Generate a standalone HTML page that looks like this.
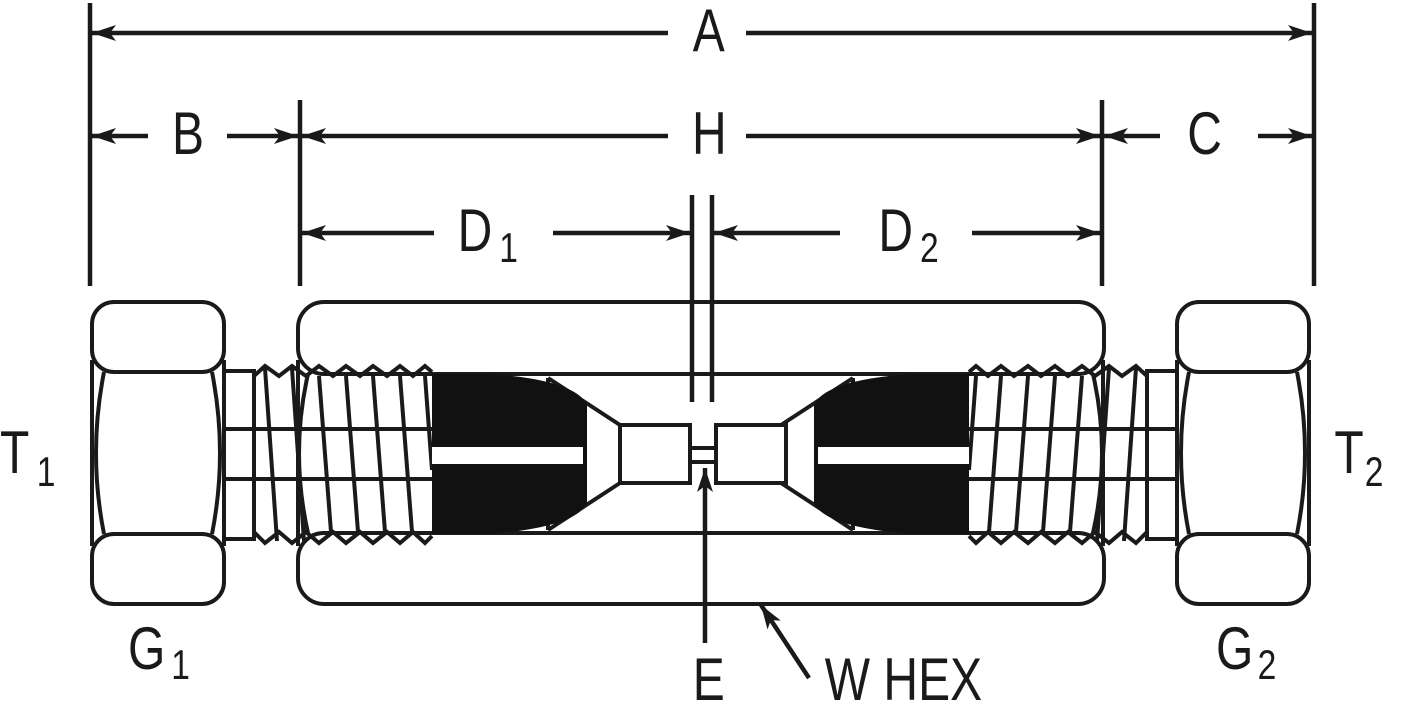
<!DOCTYPE html>
<html><head><meta charset="utf-8"><style>
html,body{margin:0;padding:0;background:#fff}
svg{display:block}
text{font-family:"Liberation Sans Narrow","Liberation Sans",sans-serif;fill:#1a1a1a}
</style></head><body>
<svg width="1402" height="706" viewBox="0 0 1402 706" xmlns="http://www.w3.org/2000/svg">
<defs>
<marker id="ar" markerUnits="userSpaceOnUse" markerWidth="26" markerHeight="16" refX="24" refY="8" orient="auto-start-reverse">
<path d="M0,0 L24,8 L0,16 L6,8 Z" fill="#1a1a1a"/>
</marker>
<g id="half" stroke="#1a1a1a" stroke-width="4" fill="none">
<rect x="92" y="302" width="132" height="70" rx="22" fill="#fff"/>
<rect x="92" y="534" width="132" height="70" rx="22" fill="#fff"/>
<line x1="92" y1="360" x2="92" y2="546"/>
<line x1="224" y1="360" x2="224" y2="546"/>
<path d="M104,372 Q88,453 104,534"/>
<path d="M212,372 Q228,453 212,534"/>
<rect x="224" y="371" width="30" height="168"/>
<line x1="224" y1="429" x2="432" y2="429"/>
<line x1="224" y1="479" x2="432" y2="479"/>
<polyline points="254,376 265,366 279,376 292,366 306,376 319,366 333,376 346,366 360,376 373,366 387,376 400,366 413,376 425,366 432,372"/>
<polyline points="254,532 265,543 279,532 292,543 306,532 319,543 333,532 346,543 360,532 373,543 387,532 400,543 413,532 425,543 432,536"/>
<line x1="265" y1="368" x2="277" y2="541"/>
<line x1="292" y1="368" x2="304" y2="541"/>
<line x1="319" y1="376" x2="331" y2="532"/>
<line x1="346" y1="376" x2="358" y2="532"/>
<line x1="373" y1="376" x2="385" y2="532"/>
<line x1="400" y1="376" x2="412" y2="532"/>
<line x1="425" y1="376" x2="432" y2="470"/>
<line x1="298" y1="360" x2="298" y2="546"/>
<path d="M308,374 Q290,453 308,533"/>
<polyline points="548,378 620,425"/>
<polyline points="548,530 620,483"/>
<line x1="548" y1="378" x2="548" y2="394"/>
<line x1="548" y1="514" x2="548" y2="530"/>
<path d="M432,374 L490,374 Q576,380 587,405 L587,503 Q576,527 490,534 L432,534 Z" fill="#111" stroke="none"/>
<rect x="440" y="447" width="143" height="17" fill="#fff" stroke="none"/>
<rect x="432" y="447" width="8" height="17" fill="#fff" stroke="none"/>
</g>
</defs>
<g stroke="#1a1a1a" stroke-width="4" fill="none">
<rect x="298" y="302" width="806" height="72" rx="26"/>
<rect x="298" y="533" width="806" height="71" rx="26"/>
</g>
<use href="#half"/>
<use href="#half" transform="translate(1401,0) scale(-1,1)"/>
<g stroke="#1a1a1a" stroke-width="4" fill="#fff">
<rect x="620" y="425" width="70" height="58"/>
<rect x="716" y="425" width="70" height="58"/>
<rect x="690" y="448" width="26" height="14"/>
</g>
<g stroke="#1a1a1a" stroke-width="4.5" fill="none">
<line x1="90" y1="3" x2="90" y2="286"/>
<line x1="1314" y1="3" x2="1314" y2="286"/>
<line x1="300" y1="100" x2="300" y2="286"/>
<line x1="1102" y1="100" x2="1102" y2="286"/>
<line x1="692" y1="195" x2="692" y2="402"/>
<line x1="712" y1="195" x2="712" y2="402"/>
<line x1="668" y1="33" x2="92" y2="33" marker-end="url(#ar)"/>
<line x1="746" y1="33" x2="1312" y2="33" marker-end="url(#ar)"/>
<line x1="148" y1="136" x2="92" y2="136" marker-end="url(#ar)"/>
<line x1="227" y1="136" x2="298" y2="136" marker-end="url(#ar)"/>
<line x1="668" y1="136" x2="302" y2="136" marker-end="url(#ar)"/>
<line x1="746" y1="136" x2="1100" y2="136" marker-end="url(#ar)"/>
<line x1="1160" y1="136" x2="1104" y2="136" marker-end="url(#ar)"/>
<line x1="1258" y1="136" x2="1312" y2="136" marker-end="url(#ar)"/>
<line x1="434" y1="233" x2="302" y2="233" marker-end="url(#ar)"/>
<line x1="553" y1="233" x2="690" y2="233" marker-end="url(#ar)"/>
<line x1="840" y1="233" x2="714" y2="233" marker-end="url(#ar)"/>
<line x1="972" y1="233" x2="1100" y2="233" marker-end="url(#ar)"/>
<line x1="705" y1="643" x2="705" y2="468" marker-end="url(#ar)"/>
<line x1="809" y1="678" x2="761" y2="605" marker-end="url(#ar)"/>
</g>
<g transform="scale(0.8,1)">
<g font-size="60">
<text x="866" y="51">A</text>
<text x="865" y="154">H</text>
<text x="215" y="154">B</text>
<text x="1484" y="154">C</text>
<text x="572" y="251">D</text>
<text x="1098" y="251">D</text>
<text x="0" y="473">T</text>
<text x="1668" y="473">T</text>
<text x="160" y="669">G</text>
<text x="1520" y="669">G</text>
<text x="866" y="700">E</text>
<text x="1031" y="700">W HEX</text>
</g>
<g font-size="42">
<text x="624" y="262">1</text>
<text x="1150" y="262">2</text>
<text x="46" y="486">1</text>
<text x="1706" y="486">2</text>
<text x="214" y="679">1</text>
<text x="1572" y="679">2</text>
</g>
</g>
</svg>
</body></html>
